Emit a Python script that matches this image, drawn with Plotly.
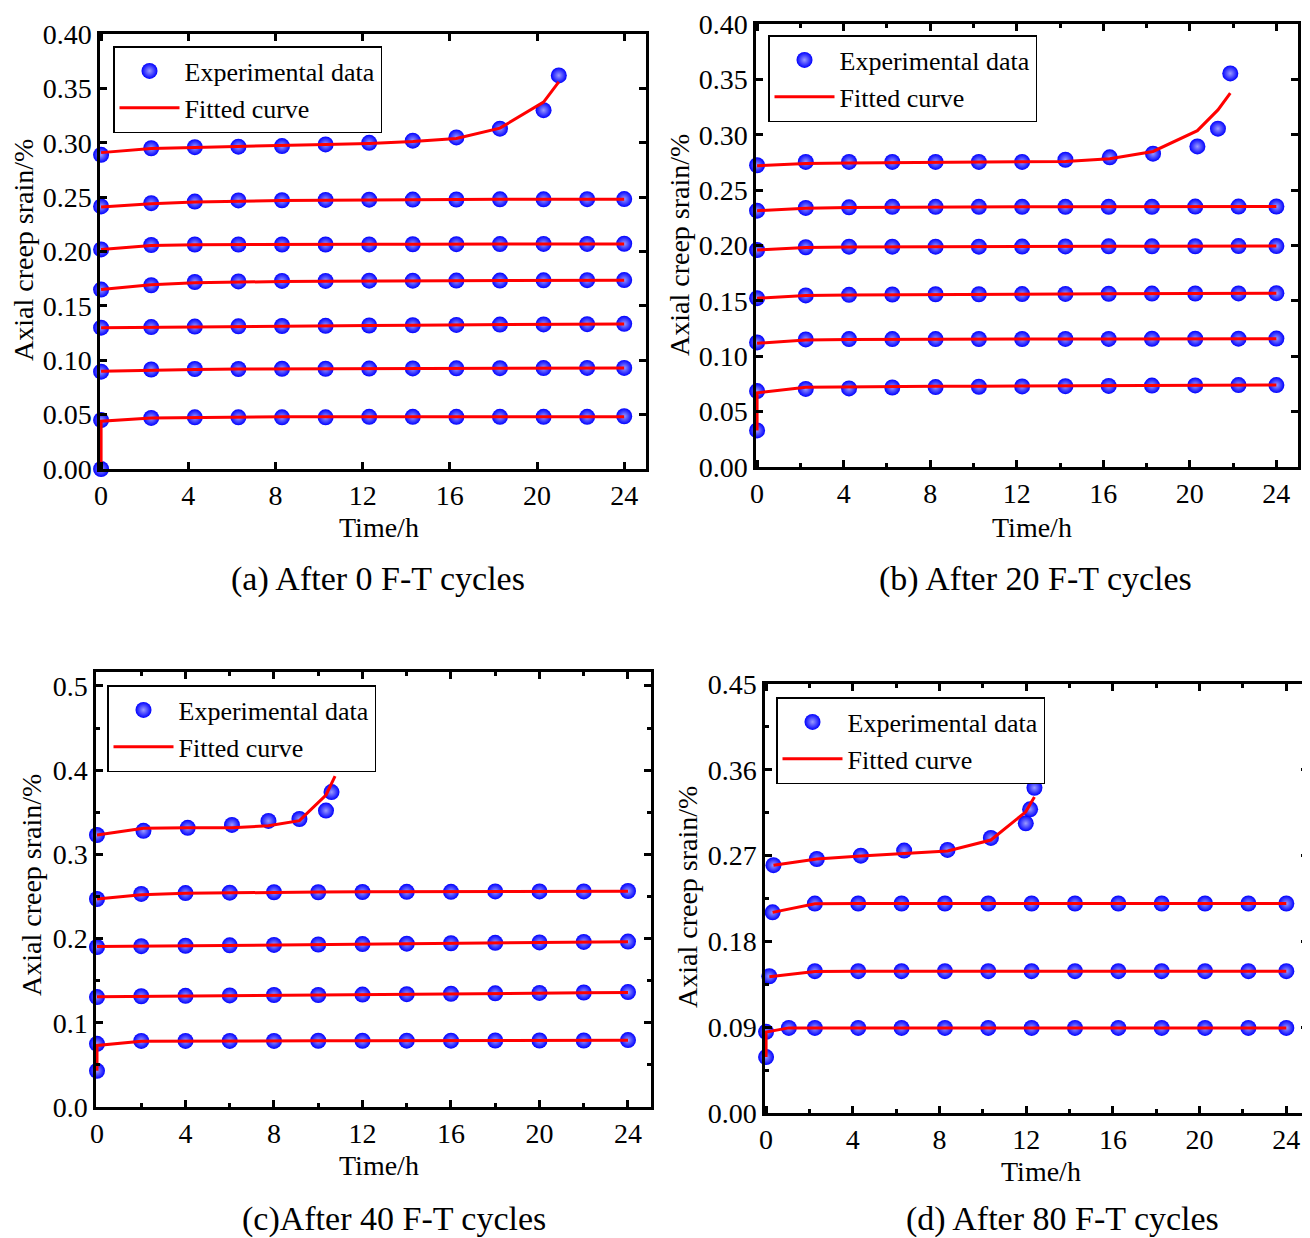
import plotly.graph_objects as go

# ---------------- DATA ----------------
# Panel (a): after 0 F-T cycles
a_t = [0, 2.3, 4.3, 6.3, 8.3, 10.3, 12.3, 14.3, 16.3, 18.3, 20.3, 22.3, 24]
a1_t = [0, 0, 2.3, 4.3, 6.3, 8.3, 10.3, 12.3, 14.3, 16.3, 18.3, 20.3, 22.3, 24]
a1_y = [0.000, 0.045, 0.047, 0.0475, 0.0475, 0.0475, 0.0475, 0.048, 0.048, 0.048, 0.048, 0.048, 0.048, 0.0485]
a1_f = [0.000, 0.044, 0.047, 0.0475, 0.0478, 0.048, 0.048, 0.048, 0.048, 0.048, 0.048, 0.048, 0.048, 0.048]
a2_y = [0.0895, 0.0915, 0.092, 0.092, 0.0922, 0.0922, 0.0924, 0.0925, 0.0926, 0.0927, 0.0928, 0.093, 0.093]
a2_f = [0.0900, 0.0912, 0.0916, 0.0919, 0.0921, 0.0923, 0.0925, 0.0926, 0.0927, 0.0928, 0.0929, 0.093, 0.093]
a3_y = [0.1300, 0.1305, 0.131, 0.1312, 0.1315, 0.1317, 0.132, 0.1322, 0.1325, 0.1328, 0.133, 0.1332, 0.1335]
a3_f = [0.1300, 0.1305, 0.1309, 0.1312, 0.1315, 0.1318, 0.132, 0.1323, 0.1325, 0.1328, 0.133, 0.1332, 0.1334]
a4_y = [0.1650, 0.169, 0.1720, 0.1725, 0.173, 0.173, 0.1732, 0.1732, 0.1733, 0.1733, 0.1735, 0.1737, 0.1738]
a4_f = [0.1650, 0.1695, 0.1712, 0.172, 0.1725, 0.1728, 0.173, 0.1731, 0.1732, 0.1733, 0.1734, 0.1735, 0.1736]
a5_y = [0.2020, 0.2060, 0.2065, 0.2065, 0.2065, 0.2065, 0.2066, 0.2067, 0.2068, 0.2069, 0.207, 0.207, 0.2072]
a5_f = [0.2020, 0.2055, 0.2062, 0.2065, 0.2066, 0.2067, 0.2068, 0.2068, 0.2069, 0.2069, 0.207, 0.207, 0.207]
a6_y = [0.2415, 0.2445, 0.2460, 0.2470, 0.2472, 0.2475, 0.2477, 0.2478, 0.2479, 0.248, 0.248, 0.2482, 0.2483]
a6_f = [0.2410, 0.2440, 0.2455, 0.2465, 0.2470, 0.2473, 0.2476, 0.2478, 0.2479, 0.248, 0.248, 0.2481, 0.2481]
a7_t = [0, 2.3, 4.3, 6.3, 8.3, 10.3, 12.3, 14.3, 16.3, 18.3, 20.3, 21.0]
a7_y = [0.289, 0.295, 0.296, 0.2965, 0.297, 0.2985, 0.300, 0.302, 0.305, 0.313, 0.330, 0.362]
a7_f = [0.291, 0.2948, 0.2958, 0.2965, 0.2975, 0.2985, 0.2995, 0.3012, 0.304, 0.3135, 0.3375, 0.356]

# Panel (b): after 20 F-T cycles
b_t = [0, 2.25, 4.25, 6.25, 8.25, 10.25, 12.25, 14.25, 16.25, 18.25, 20.25, 22.25, 24]
b1_t = [0, 0, 2.25, 4.25, 6.25, 8.25, 10.25, 12.25, 14.25, 16.25, 18.25, 20.25, 22.25, 24]
b1_y = [0.033, 0.0686, 0.0705, 0.071, 0.0718, 0.0722, 0.0725, 0.0728, 0.073, 0.0732, 0.0735, 0.0737, 0.074, 0.074]
b1_f = [0.033, 0.0670, 0.0720, 0.0725, 0.0727, 0.0729, 0.073, 0.0732, 0.0733, 0.0735, 0.0736, 0.0738, 0.0739, 0.074]
b2_y = [0.1125, 0.1152, 0.1155, 0.1155, 0.1155, 0.1156, 0.1156, 0.1157, 0.1157, 0.1158, 0.1158, 0.1159, 0.116]
b2_f = [0.1118, 0.1146, 0.1152, 0.1154, 0.1155, 0.1156, 0.1156, 0.1157, 0.1157, 0.1158, 0.1158, 0.1159, 0.1159]
b3_y = [0.1525, 0.1550, 0.1555, 0.1558, 0.156, 0.156, 0.1562, 0.1563, 0.1565, 0.1566, 0.1567, 0.1568, 0.157]
b3_f = [0.1525, 0.1548, 0.1553, 0.1556, 0.1558, 0.156, 0.1561, 0.1563, 0.1564, 0.1566, 0.1567, 0.1568, 0.1569]
b4_y = [0.1960, 0.1985, 0.1990, 0.199, 0.199, 0.199, 0.1991, 0.1992, 0.1993, 0.1993, 0.1994, 0.1995, 0.1995]
b4_f = [0.1960, 0.1982, 0.1987, 0.1989, 0.199, 0.199, 0.1991, 0.1992, 0.1993, 0.1993, 0.1994, 0.1994, 0.1995]
b5_y = [0.2315, 0.2340, 0.2345, 0.235, 0.235, 0.235, 0.235, 0.235, 0.235, 0.235, 0.2352, 0.2352, 0.2353]
b5_f = [0.2315, 0.2338, 0.2344, 0.2347, 0.2349, 0.235, 0.235, 0.2351, 0.2351, 0.2352, 0.2352, 0.2352, 0.2353]
b6_t = [0, 2.25, 4.25, 6.25, 8.25, 10.25, 12.25, 14.25, 16.3, 18.3, 20.35, 21.3, 21.87]
b6_y = [0.2725, 0.2755, 0.2755, 0.2755, 0.2755, 0.2755, 0.2755, 0.2775, 0.2797, 0.283, 0.2895, 0.3056, 0.3555]
b6_f = [0.272, 0.2740, 0.2745, 0.2748, 0.275, 0.2752, 0.2755, 0.276, 0.2785, 0.285, 0.3038, 0.3225, 0.3377]

# Panel (c): after 40 F-T cycles
c_t = [0, 2, 4, 6, 8, 10, 12, 14, 16, 18, 20, 22, 24]
c1_t = [0, 0, 2, 4, 6, 8, 10, 12, 14, 16, 18, 20, 22, 24]
c1_y = [0.043, 0.075, 0.0785, 0.0785, 0.0785, 0.0785, 0.0787, 0.0787, 0.0788, 0.0788, 0.079, 0.079, 0.079, 0.0795]
c1_f = [0.043, 0.073, 0.0782, 0.0785, 0.0786, 0.0787, 0.0787, 0.0788, 0.0788, 0.0789, 0.079, 0.079, 0.0791, 0.0792]
c2_y = [0.1305, 0.1315, 0.132, 0.1325, 0.133, 0.133, 0.1335, 0.134, 0.1345, 0.135, 0.1355, 0.136, 0.1365]
c2_f = [0.1310, 0.1315, 0.132, 0.1324, 0.1328, 0.1332, 0.1336, 0.134, 0.1344, 0.1348, 0.1352, 0.1356, 0.136]
c3_y = [0.1900, 0.191, 0.1915, 0.192, 0.1925, 0.193, 0.1935, 0.194, 0.1945, 0.195, 0.1955, 0.196, 0.1965]
c3_f = [0.1905, 0.191, 0.1915, 0.192, 0.1924, 0.1929, 0.1934, 0.1938, 0.1943, 0.1948, 0.1952, 0.1957, 0.1962]
c4_y = [0.2470, 0.2530, 0.2540, 0.2545, 0.255, 0.255, 0.2553, 0.2555, 0.2555, 0.256, 0.256, 0.256, 0.2565]
c4_f = [0.2470, 0.2520, 0.2538, 0.2546, 0.255, 0.2553, 0.2555, 0.2557, 0.2558, 0.256, 0.2561, 0.2562, 0.2563]
c5_t = [0, 2.1, 4.1, 6.1, 7.75, 9.15, 10.35, 10.6, 10.76]
c5_y = [0.323, 0.328, 0.3315, 0.335, 0.3397, 0.342, 0.352, 0.374, 0.409]
c5_f = [0.323, 0.331, 0.3315, 0.3317, 0.334, 0.340, 0.3705, 0.3836, 0.393]

# Panel (d): after 80 F-T cycles
d_t = [2.25, 4.25, 6.25, 8.25, 10.25, 12.25, 14.25, 16.25, 18.25, 20.25, 22.25, 24]
d1_t = [0, 0, 1.05] + d_t
d1_y = [0.0587, 0.0852, 0.0893, 0.0893, 0.0893, 0.0893, 0.0893, 0.0893, 0.0893, 0.0893, 0.0893, 0.0893, 0.0893, 0.0893, 0.0893]
d1_f = [0.0587, 0.0850, 0.0893, 0.0893, 0.0893, 0.0893, 0.0893, 0.0893, 0.0893, 0.0893, 0.0893, 0.0893, 0.0893, 0.0893, 0.0893]
d2_t = [0.15] + d_t
d2_y = [0.1435, 0.1488, 0.1488, 0.1488, 0.1488, 0.1488, 0.1488, 0.1488, 0.1488, 0.1488, 0.1488, 0.1488, 0.1488]
d2_f = [0.1430, 0.1485, 0.1487, 0.1488, 0.1488, 0.1488, 0.1488, 0.1488, 0.1488, 0.1488, 0.1488, 0.1488, 0.1488]
d3_t = [0.3] + d_t
d3_y = [0.2105, 0.2197, 0.2198, 0.2198, 0.2198, 0.2198, 0.2198, 0.2198, 0.2198, 0.2198, 0.2198, 0.2198, 0.2198]
d3_f = [0.2105, 0.2195, 0.2197, 0.2198, 0.2198, 0.2198, 0.2198, 0.2198, 0.2198, 0.2198, 0.2198, 0.2198, 0.2198]
d4_t = [0.34, 2.34, 4.37, 6.37, 8.37, 10.37, 11.98, 12.18, 12.38]
d4_y = [0.260, 0.2665, 0.270, 0.2753, 0.276, 0.2886, 0.3039, 0.3186, 0.3412]
d4_f = [0.260, 0.2665, 0.2696, 0.272, 0.275, 0.2864, 0.316, 0.324, 0.3315]

captions = ["(a) After 0 F-T cycles", "(b) After 20 F-T cycles",
            "(c)After 40 F-T cycles", "(d) After 80 F-T cycles"]
legend_names = ["Experimental data", "Fitted curve"]
x_title = "Time/h"
y_title = "Axial creep srain/%"

# ---------------- LAYOUT HELPERS ----------------
W, H = 1310, 1238
OFF = 8  # page body margin offset
FONT = "Liberation Serif, Times New Roman, serif"
TICK_FS, TITLE_FS, LEG_FS, CAP_FS = 28, 28, 26, 34

def fx(px):
    return (px - OFF) / W

def fy(py):
    return 1 - (py - OFF) / H

panels = [
    dict(series=[(a1_t, a1_y, a1_f), (a_t, a2_y, a2_f), (a_t, a3_y, a3_f), (a_t, a4_y, a4_f),
                 (a_t, a5_y, a5_f), (a_t, a6_y, a6_f), (a7_t, a7_y, a7_f)],
         box=(100, 646, 34, 469), xr=[-0.05, 25], yr=[0, 0.4001], ydt=0.05, yfmt=".2f",
         xminor=None, yminor=None, leg=(113, 46),
         xt=(379, 527), yt=(24, 250), cap=(378, 579)),
    dict(series=[(b1_t, b1_y, b1_f), (b_t, b2_y, b2_f), (b_t, b3_y, b3_f), (b_t, b4_y, b4_f),
                 (b_t, b5_y, b5_f), (b6_t, b6_y, b6_f)],
         box=(756, 1298, 24, 467), xr=[-0.05, 25], yr=[0, 0.4001], ydt=0.05, yfmt=".2f",
         xminor=2, yminor=None, leg=(768, 35),
         xt=(1032, 527), yt=(679, 245), cap=(1035, 579)),
    dict(series=[(c1_t, c1_y, c1_f), (c_t, c2_y, c2_f), (c_t, c3_y, c3_f), (c_t, c4_y, c4_f),
                 (c5_t, c5_y, c5_f)],
         box=(96, 651, 672, 1107), xr=[-0.045, 25.04], yr=[0, 0.5166], ydt=0.1, yfmt=".1f",
         xminor=2, yminor=0.05, leg=(107, 685),
         xt=(379, 1165), yt=(31, 885), cap=(394, 1219)),
    dict(series=[(d1_t, d1_y, d1_f), (d2_t, d2_y, d2_f), (d3_t, d3_y, d3_f), (d4_t, d4_y, d4_f)],
         box=(765, 1308, 684, 1113), xr=[-0.05, 25.0], yr=[0, 0.4501], ydt=0.09, yfmt=".2f",
         xminor=2, yminor=0.045, leg=(776, 697),
         xt=(1041, 1171), yt=(687, 897), cap=(1062, 1219)),
]

fig = go.Figure()
layout = dict(
    width=W, height=H, margin=dict(l=0, r=0, t=0, b=0, autoexpand=False),
    paper_bgcolor="white", plot_bgcolor="white",
    font=dict(family=FONT, size=TICK_FS, color="black"),
    showlegend=True,
)
annotations = []

for i, p in enumerate(panels):
    k = "" if i == 0 else str(i + 1)
    xa, ya = "x" + k, "y" + k
    legname = "legend" + k
    # markers first (drawn under the fitted lines)
    for j, (t, y, f) in enumerate(p["series"]):
        fig.add_trace(go.Scatter(
            x=t, y=y, mode="markers", xaxis=xa, yaxis=ya,
            name=legend_names[0], legend=legname, showlegend=(j == 0),
            marker=dict(color="#0000ff", size=16,
                        gradient=dict(type="radial", color="#9a9aff"),
                        line=dict(width=0)),
            cliponaxis=False))
    for j, (t, y, f) in enumerate(p["series"]):
        fig.add_trace(go.Scatter(
            x=t, y=f, mode="lines", xaxis=xa, yaxis=ya,
            name=legend_names[1], legend=legname, showlegend=(j == 0),
            line=dict(color="#ff0000", width=3)))

    x0, x1, y0, y1 = p["box"]
    common = dict(showline=True, linecolor="black", linewidth=2.5, mirror="allticks",
                  ticks="inside", ticklen=7, tickwidth=2.5, tickcolor="black",
                  showgrid=False, zeroline=False, automargin=False,
                  ticklabeloverflow="allow",
                  tickfont=dict(family=FONT, size=TICK_FS, color="black"))
    xaxis = dict(common, domain=[fx(x0), fx(x1)], range=p["xr"], anchor=ya,
                 tickmode="linear", tick0=0, dtick=4)
    if p["xminor"]:
        xaxis["minor"] = dict(dtick=p["xminor"], tick0=0, ticks="inside", ticklen=4,
                              tickwidth=2.5, tickcolor="black", showgrid=False)
    yaxis = dict(common, domain=[fy(y1), fy(y0)], range=p["yr"], anchor=xa,
                 tickmode="linear", tick0=0, dtick=p["ydt"], tickformat=p["yfmt"])
    if p["yminor"]:
        yaxis["minor"] = dict(dtick=p["yminor"], tick0=0, ticks="inside", ticklen=4,
                              tickwidth=2.5, tickcolor="black", showgrid=False)
    layout["xaxis" + k] = xaxis
    layout["yaxis" + k] = yaxis

    lx, ly = p["leg"]
    layout[legname] = dict(x=fx(lx), y=fy(ly), xanchor="left", yanchor="top",
                           xref="paper", yref="paper",
                           bgcolor="white", bordercolor="black", borderwidth=1.5,
                           font=dict(family=FONT, size=LEG_FS, color="black"),
                           tracegroupgap=0, itemwidth=60)

    annotations.append(dict(text=x_title, x=fx(p["xt"][0]), y=fy(p["xt"][1]),
                            xref="paper", yref="paper", showarrow=False,
                            xanchor="center", yanchor="middle",
                            font=dict(family=FONT, size=TITLE_FS, color="black")))
    annotations.append(dict(text=y_title, x=fx(p["yt"][0]), y=fy(p["yt"][1]),
                            xref="paper", yref="paper", showarrow=False, textangle=-90,
                            xanchor="center", yanchor="middle",
                            font=dict(family=FONT, size=TITLE_FS, color="black")))
    annotations.append(dict(text=captions[i], x=fx(p["cap"][0]), y=fy(p["cap"][1]),
                            xref="paper", yref="paper", showarrow=False,
                            xanchor="center", yanchor="middle",
                            font=dict(family=FONT, size=CAP_FS, color="black")))

layout["annotations"] = annotations
fig.update_layout(**layout)
fig.write_html("out.html")
